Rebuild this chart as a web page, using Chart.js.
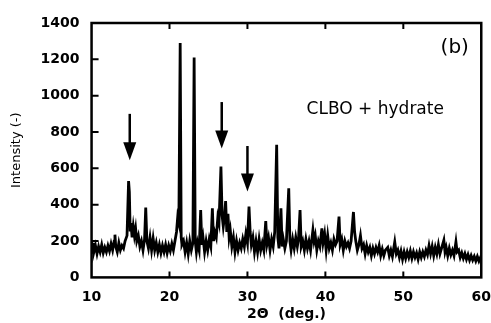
<!DOCTYPE html>
<html>
<head>
<meta charset="utf-8">
<script src="https://cdn.jsdelivr.net/npm/chart.js@4.4.1/dist/chart.umd.min.js"></script>
<style>
  html, body { margin: 0; padding: 0; background: #fff; }
  #wrap { width: 491px; height: 323px; }
</style>
</head>
<body>
<div id="wrap"><canvas id="xrd"></canvas></div>
<script>
// XRD scan: [2theta (deg), intensity]
const scan = [
  [10.0, 200], [10.1, 130], [10.2, 190], [10.3, 140], [10.5, 175], [10.7, 130], [10.9, 170],
  [11.1, 140], [11.3, 180], [11.5, 135], [11.7, 165], [11.9, 140], [12.1, 175], [12.3, 145],
  [12.5, 185], [12.7, 150], [12.9, 200], [13.0, 235], [13.1, 170], [13.3, 140], [13.5, 190],
  [13.7, 150], [13.9, 175], [14.1, 160], [14.3, 200], [14.55, 230], [14.75, 530], [14.85, 470],
  [14.95, 260], [15.05, 300], [15.2, 220], [15.35, 280], [15.5, 230], [15.65, 270], [15.8, 200],
  [16.0, 230], [16.2, 170], [16.4, 200], [16.6, 150], [16.8, 210], [16.95, 385], [17.1, 200],
  [17.3, 160], [17.5, 220], [17.7, 150], [17.9, 215], [18.1, 150], [18.3, 190], [18.5, 140],
  [18.7, 180], [18.9, 135], [19.1, 175], [19.3, 140], [19.5, 180], [19.7, 135], [19.9, 175],
  [20.1, 145], [20.3, 185], [20.5, 150], [20.7, 200], [20.9, 250], [21.05, 330], [21.2, 300],
  [21.37, 1290], [21.5, 220], [21.6, 180], [21.8, 200], [22.0, 140], [22.2, 190], [22.4, 130],
  [22.6, 200], [22.8, 150], [23.0, 190], [23.16, 1210], [23.3, 200], [23.45, 140], [23.6, 190],
  [23.8, 150], [24.0, 370], [24.15, 180], [24.3, 220], [24.5, 140], [24.7, 200], [24.9, 150],
  [25.1, 210], [25.3, 170], [25.5, 380], [25.65, 200], [25.8, 250], [26.0, 220], [26.2, 330],
  [26.35, 300], [26.6, 610], [26.75, 340], [26.9, 280], [27.05, 330], [27.2, 420], [27.35, 250],
  [27.5, 350], [27.65, 220], [27.8, 260], [28.0, 170], [28.2, 220], [28.4, 140], [28.6, 200],
  [28.8, 150], [29.0, 190], [29.2, 160], [29.4, 210], [29.6, 170], [29.8, 240], [30.0, 190],
  [30.2, 390], [30.35, 250], [30.5, 180], [30.7, 220], [30.9, 140], [31.1, 200], [31.3, 140],
  [31.5, 210], [31.7, 150], [31.9, 190], [32.1, 150], [32.35, 310], [32.5, 180], [32.7, 220],
  [32.9, 150], [33.1, 210], [33.3, 170], [33.5, 250], [33.75, 730], [33.9, 220], [34.05, 160],
  [34.3, 380], [34.45, 170], [34.6, 210], [34.8, 160], [35.0, 200], [35.3, 490], [35.45, 200],
  [35.6, 150], [35.8, 210], [36.0, 160], [36.2, 220], [36.4, 170], [36.55, 210], [36.75, 370],
  [36.9, 170], [37.1, 200], [37.3, 150], [37.5, 210], [37.7, 160], [37.9, 200], [38.1, 150],
  [38.4, 260], [38.55, 200], [38.7, 230], [38.9, 150], [39.1, 200], [39.3, 170], [39.55, 270],
  [39.7, 190], [39.9, 240], [40.1, 150], [40.3, 230], [40.5, 160], [40.7, 190], [40.9, 150],
  [41.1, 210], [41.3, 180], [41.5, 200], [41.75, 335], [41.9, 180], [42.1, 210], [42.3, 150],
  [42.5, 200], [42.7, 170], [42.9, 190], [43.1, 160], [43.3, 200], [43.6, 360], [43.75, 250],
  [43.9, 200], [44.1, 150], [44.3, 180], [44.5, 230], [44.7, 160], [44.9, 180], [45.1, 130],
  [45.3, 175], [45.5, 140], [45.7, 165], [45.9, 120], [46.1, 160], [46.3, 130], [46.5, 165],
  [46.7, 140], [46.9, 175], [47.1, 120], [47.3, 155], [47.5, 120], [47.7, 150], [48.0, 165],
  [48.2, 120], [48.4, 150], [48.6, 115], [48.9, 195], [49.1, 130], [49.3, 150], [49.5, 110],
  [49.7, 145], [49.9, 100], [50.1, 140], [50.3, 105], [50.5, 140], [50.7, 110], [50.9, 145],
  [51.1, 105], [51.3, 140], [51.5, 110], [51.7, 135], [51.9, 100], [52.1, 140], [52.3, 110],
  [52.5, 140], [52.7, 115], [52.9, 150], [53.1, 125], [53.3, 175], [53.5, 130], [53.7, 170],
  [53.9, 120], [54.1, 165], [54.3, 130], [54.5, 180], [54.7, 130], [54.9, 160], [55.2, 205],
  [55.35, 140], [55.5, 165], [55.7, 120], [55.9, 160], [56.1, 125], [56.3, 150], [56.5, 120],
  [56.75, 195], [56.9, 140], [57.1, 150], [57.3, 110], [57.5, 135], [57.7, 105], [57.9, 130],
  [58.1, 100], [58.3, 125], [58.5, 95], [58.7, 120], [58.9, 95], [59.1, 115], [59.3, 90],
  [59.5, 115], [59.7, 90], [59.9, 110], [60.0, 100]
];

const xTicks = [10, 20, 30, 40, 50, 60];
const yTicks = [0, 200, 400, 600, 800, 1000, 1200, 1400];

// marked reflections: arrow position, tail and tip intensity
const arrowAngles = [14.9, 26.7, 30.0];
const arrowTails = [900, 965, 723];
const arrowTips = [645, 710, 473];

const ctx = document.getElementById('xrd').getContext('2d');

const frame = {
    id: 'frame',
    afterDraw(chart) {
        const { ctx, chartArea: a, scales: { x, y } } = chart;
        ctx.save();
        ctx.strokeStyle = '#000';
        ctx.lineWidth = 2.5;
        ctx.strokeRect(a.left, a.top, a.right - a.left, a.bottom - a.top);

        // inward ticks
        ctx.lineWidth = 2;
        ctx.beginPath();
        xTicks.slice(1, -1).forEach((v) => {
            const px = x.getPixelForValue(v);
            ctx.moveTo(px, a.bottom);
            ctx.lineTo(px, a.bottom - 6);
            ctx.moveTo(px, a.top);
            ctx.lineTo(px, a.top + 6);
        });
        yTicks.slice(1, -1).forEach((v) => {
            const py = y.getPixelForValue(v);
            ctx.moveTo(a.left, py);
            ctx.lineTo(a.left + 7, py);
        });
        ctx.stroke();

        // arrows
        arrowAngles.forEach((ang, i) => {
            const px = x.getPixelForValue(ang);
            const top = y.getPixelForValue(arrowTails[i]);
            const tip = y.getPixelForValue(arrowTips[i]);
            ctx.lineWidth = 2.5;
            ctx.beginPath();
            ctx.moveTo(px, top);
            ctx.lineTo(px, tip - 10);
            ctx.stroke();
            ctx.fillStyle = '#000';
            ctx.beginPath();
            ctx.moveTo(px - 6.5, tip - 18);
            ctx.lineTo(px + 6.5, tip - 18);
            ctx.lineTo(px, tip);
            ctx.closePath();
            ctx.fill();
        });

        // labels
        ctx.fillStyle = '#000';
        ctx.textBaseline = 'middle';
        ctx.textAlign = 'center';
        ctx.font = '20px "DejaVu Sans"';
        ctx.fillText('(b)', x.getPixelForValue(56.6), y.getPixelForValue(1262));
        ctx.font = '17px "DejaVu Sans"';
        ctx.fillText('CLBO + hydrate', x.getPixelForValue(46.4), y.getPixelForValue(926));
        ctx.restore();
    }
};

new Chart(ctx, {
    type: 'line',
    data: {
        datasets: [{
            data: scan.map(([t, i]) => ({ x: t, y: i })),
            borderColor: '#000',
            borderWidth: 2.8,
            pointRadius: 0,
            tension: 0,
            fill: false
        }]
    },
    options: {
        responsive: true,
        maintainAspectRatio: false,
        animation: false,
        layout: {
            padding: { left: 7, right: 0, top: 23, bottom: 0 }
        },
        plugins: {
            legend: { display: false },
            tooltip: { enabled: false }
        },
        scales: {
            x: {
                type: 'linear',
                min: 10,
                max: 60,
                grid: { display: false, drawTicks: true, tickLength: 12 },
                border: { display: false },
                ticks: {
                    stepSize: 10,
                    padding: 0,
                    color: '#000',
                    font: { family: 'DejaVu Sans', size: 14, weight: 'bold' },
                    callback: (v) => String(v)
                },
                title: {
                    display: true,
                    text: '2\u0398  (deg.)',
                    color: '#000',
                    padding: { top: 0, bottom: 0 },
                    font: { family: 'DejaVu Sans', size: 14, weight: 'bold' }
                }
            },
            y: {
                min: 0,
                max: 1400,
                grid: { display: false, drawTicks: true, tickLength: 12 },
                border: { display: false },
                ticks: {
                    stepSize: 200,
                    padding: 0,
                    color: '#000',
                    font: { family: 'DejaVu Sans', size: 14, weight: 'bold' },
                    callback: (v) => String(v)
                },
                title: {
                    display: true,
                    text: 'Intensity (-)',
                    color: '#000',
                    padding: { top: 2, bottom: 16 },
                    font: { family: 'DejaVu Sans', size: 13 }
                }
            }
        }
    },
    plugins: [frame]
});
</script>
</body>
</html>
